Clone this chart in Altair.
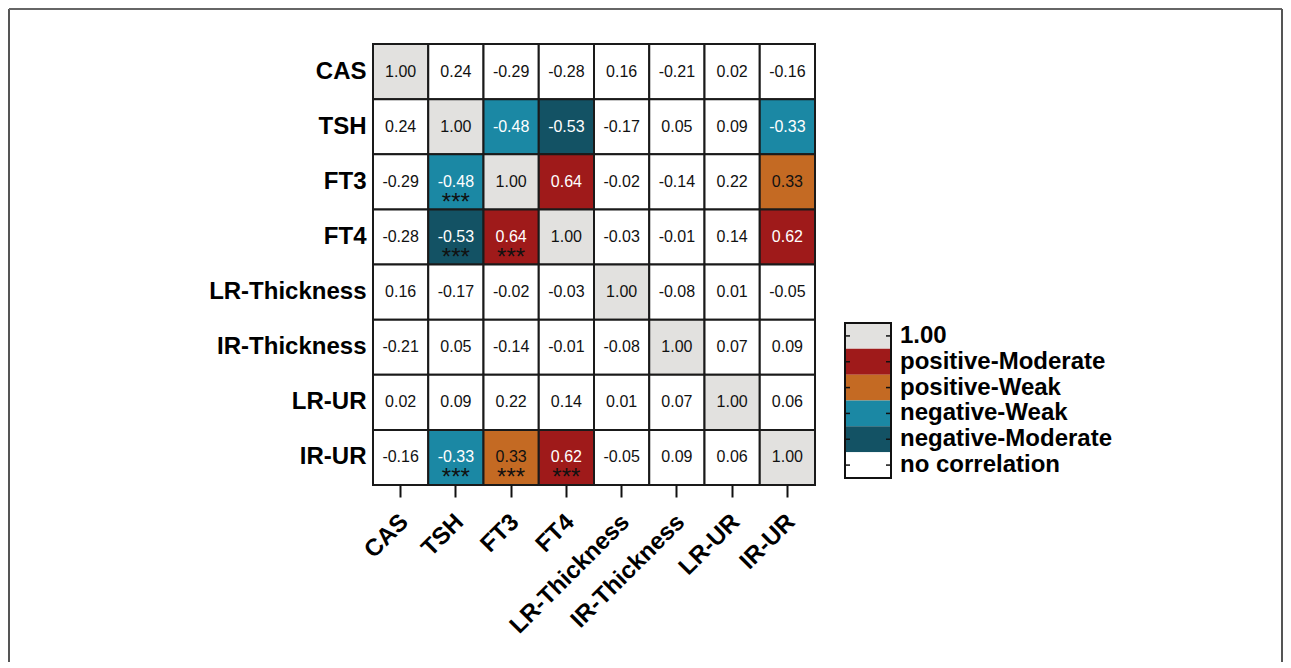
import altair as alt
import pandas as pd

# ---------------- data ----------------
variables = ["CAS", "TSH", "FT3", "FT4", "LR-Thickness", "IR-Thickness", "LR-UR", "IR-UR"]

r_CAS = [1.00, 0.24, -0.29, -0.28, 0.16, -0.21, 0.02, -0.16]
r_TSH = [0.24, 1.00, -0.48, -0.53, -0.17, 0.05, 0.09, -0.33]
r_FT3 = [-0.29, -0.48, 1.00, 0.64, -0.02, -0.14, 0.22, 0.33]
r_FT4 = [-0.28, -0.53, 0.64, 1.00, -0.03, -0.01, 0.14, 0.62]
r_LRT = [0.16, -0.17, -0.02, -0.03, 1.00, -0.08, 0.01, -0.05]
r_IRT = [-0.21, 0.05, -0.14, -0.01, -0.08, 1.00, 0.07, 0.09]
r_LRU = [0.02, 0.09, 0.22, 0.14, 0.01, 0.07, 1.00, 0.06]
r_IRU = [-0.16, -0.33, 0.33, 0.62, -0.05, 0.09, 0.06, 1.00]
matrix = [r_CAS, r_TSH, r_FT3, r_FT4, r_LRT, r_IRT, r_LRU, r_IRU]

# significant cells (row, column) marked with ***
significant = [("FT3", "TSH"), ("FT4", "TSH"), ("FT4", "FT3"),
               ("IR-UR", "TSH"), ("IR-UR", "FT3"), ("IR-UR", "FT4")]

legend_cats = ["1.00", "positive-Moderate", "positive-Weak",
               "negative-Weak", "negative-Moderate", "no correlation"]
legend_colors = ["#e2e1df", "#9f1a1a", "#c46a23", "#1b88a4", "#135264", "#ffffff"]
light_text_cats = ["positive-Moderate", "negative-Weak", "negative-Moderate"]


def category(row, col, v):
    if row == col:
        return "1.00"
    if v >= 0.5:
        return "positive-Moderate"
    if v >= 0.3:
        return "positive-Weak"
    if v <= -0.5:
        return "negative-Moderate"
    if v <= -0.3:
        return "negative-Weak"
    return "no correlation"


records = []
for i, row in enumerate(variables):
    for j, col in enumerate(variables):
        v = matrix[i][j]
        cat = category(row, col, v)
        records.append({
            "row": row,
            "col": col,
            "label": f"{v:.2f}",
            "cat": cat,
            "tcolor": "#ffffff" if cat in light_text_cats else "#111111",
            "stars": "***" if (row, col) in significant else "",
        })
df = pd.DataFrame(records)
legend_df = pd.DataFrame({"cat": legend_cats})
one = pd.DataFrame({"a": [0]})

FONT = "Liberation Sans"
color_scale = alt.Scale(domain=legend_cats, range=legend_colors)

xenc = alt.X("col:N", sort=variables, title=None,
             scale=alt.Scale(paddingInner=0, paddingOuter=0),
             axis=alt.Axis(labelAngle=-45, labelAlign="right", labelBaseline="middle",
                           labelFont=FONT, labelFontWeight="bold", labelFontSize=24,
                           labelColor="#000000", tickSize=12, tickWidth=2,
                           tickColor="#111111", domain=False, labelPadding=21,
                           labelOffset=4))
yenc = alt.Y("row:N", sort=variables, title=None,
             scale=alt.Scale(paddingInner=0, paddingOuter=0),
             axis=alt.Axis(ticks=False, domain=False, labelPadding=7,
                           labelFont=FONT, labelFontWeight="bold", labelFontSize=24,
                           labelColor="#000000"))

base = alt.Chart(df)
cells = base.mark_rect(stroke="#1a1a1a", strokeWidth=2).encode(
    x=xenc, y=yenc,
    color=alt.Color("cat:N", scale=color_scale, legend=None))
nums = base.mark_text(font=FONT, fontSize=16).encode(
    x=alt.X("col:N", sort=variables), y=alt.Y("row:N", sort=variables),
    text="label:N", color=alt.Color("tcolor:N", scale=None))
stars = base.mark_text(font=FONT, fontSize=24, dy=28, baseline="alphabetic",
                       color="#111111").encode(
    x=alt.X("col:N", sort=variables), y=alt.Y("row:N", sort=variables),
    text="stars:N")
main = alt.layer(cells, nums, stars)

# ---------------- legend ----------------
lscale = alt.Scale(domain=legend_cats, range=[279, 434], paddingInner=0, paddingOuter=0)
ly = alt.Y("cat:N", sort=legend_cats, scale=lscale, axis=None)
lb = alt.Chart(legend_df)
lrect = lb.mark_rect().encode(
    y=ly, x=alt.value(472), x2=alt.value(518),
    color=alt.Color("cat:N", scale=color_scale, legend=None))
ltext = lb.mark_text(font=FONT, fontSize=24, fontWeight="bold", align="left",
                     baseline="middle", color="#000000").encode(
    y=ly, x=alt.value(527), text="cat:N")
ltick_l = lb.mark_rule(color="#111111", strokeWidth=1.5).encode(
    y=alt.Y("cat:N", sort=legend_cats, scale=lscale, axis=None, bandPosition=0.5),
    x=alt.value(472), x2=alt.value(477))
ltick_r = lb.mark_rule(color="#111111", strokeWidth=1.5).encode(
    y=alt.Y("cat:N", sort=legend_cats, scale=lscale, axis=None, bandPosition=0.5),
    x=alt.value(513), x2=alt.value(518))
lborder = alt.Chart(one).mark_rect(fillOpacity=0, stroke="#111111", strokeWidth=2).encode(
    x=alt.value(472), x2=alt.value(518), y=alt.value(279), y2=alt.value(434))
legend = alt.layer(lrect, ltext, ltick_l, ltick_r, lborder)

# ---------------- outer frame ----------------
fb = alt.Chart(one)
f_left = fb.mark_rule(color="#555555", strokeWidth=2).encode(
    x=alt.value(-364), y=alt.value(-35), y2=alt.value(618))
f_top = fb.mark_rule(color="#666666", strokeWidth=2).encode(
    x=alt.value(-364), x2=alt.value(909), y=alt.value(-35))
f_right = fb.mark_rule(color="#555555", strokeWidth=2).encode(
    x=alt.value(909), y=alt.value(-35), y2=alt.value(618))
frame = alt.layer(f_left, f_top, f_right)

chart = alt.layer(main, legend, frame).resolve_scale(
    y="independent", color="shared"
).properties(
    width=442, height=441, padding=0, background="#ffffff"
).configure_view(strokeWidth=0)

chart.save("out.html", embed_options={"renderer": "svg", "actions": False})
